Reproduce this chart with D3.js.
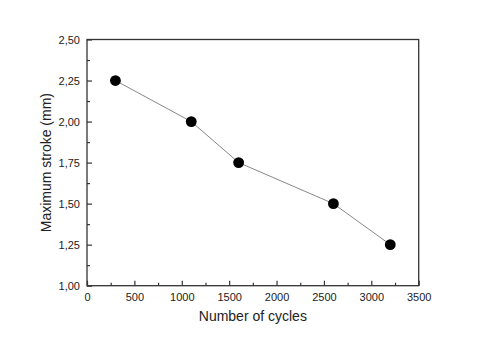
<!DOCTYPE html>
<html>
<head>
<meta charset="utf-8">
<script src="https://cdn.jsdelivr.net/npm/d3@7"></script>
<style>
  html, body { margin: 0; padding: 0; background: #fff; }
  svg { display: block; }
  text { font-family: "Liberation Sans", Arial, sans-serif; fill: #222; }
</style>
</head>
<body>
<svg id="chart" width="486" height="343"></svg>
<script>
// Maximum stroke measured against number of cycles
const cycles = [300, 1100, 1600, 2600, 3200];
const stroke = [2.25, 2.00, 1.75, 1.50, 1.25];
const xTicks = [0, 500, 1000, 1500, 2000, 2500, 3000, 3500];
const yTicks = [1.00, 1.25, 1.50, 1.75, 2.00, 2.25, 2.50];

const svg = d3.select("#chart");
const margin = { left: 87, top: 39.5, right: 486 - 418.7, bottom: 343 - 285.7 };
const W = 486, H = 343;

const x = d3.scaleLinear().domain([0, 3500]).range([margin.left, W - margin.right]);
const y = d3.scaleLinear().domain([1.0, 2.5]).range([H - margin.bottom, margin.top]);

const fmtY = d => d.toFixed(2).replace(".", ",");
const axisColor = "#333";

// Minor ticks at the midpoints
const xMinor = d3.range(250, 3500, 500);
const yMinor = d3.range(1.125, 2.5, 0.25);

const gx = svg.append("g").attr("transform", `translate(0,${y.range()[0]})`);
gx.call(d3.axisBottom(x).tickValues(xTicks).tickSize(-5).tickPadding(7.5).tickFormat(d3.format("d")));
gx.append("g").call(d3.axisBottom(x).tickValues(xMinor).tickSize(-3).tickFormat(""));

const gy = svg.append("g").attr("transform", `translate(${x.range()[0]},0)`);
gy.call(d3.axisLeft(y).tickValues(yTicks).tickSize(-5).tickPadding(7).tickFormat(fmtY));
gy.append("g").call(d3.axisLeft(y).tickValues(yMinor).tickSize(-3).tickFormat(""));

svg.selectAll(".domain").remove();
svg.selectAll(".tick line").attr("stroke", axisColor).attr("stroke-width", 1.2);
svg.selectAll(".tick text").attr("font-size", 11).attr("fill", "#222")
  .attr("font-family", "'Liberation Sans', Arial, sans-serif");

// Plot frame
svg.append("rect")
  .attr("x", x.range()[0]).attr("y", y.range()[1])
  .attr("width", x.range()[1] - x.range()[0])
  .attr("height", y.range()[0] - y.range()[1])
  .attr("fill", "none").attr("stroke", axisColor).attr("stroke-width", 1.3);

// Data line and markers
const pts = cycles.map((c, i) => [c, stroke[i]]);
svg.append("path")
  .datum(pts)
  .attr("fill", "none").attr("stroke", "#888").attr("stroke-width", 1)
  .attr("d", d3.line().x(d => x(d[0])).y(d => y(d[1])));

svg.selectAll("circle.pt").data(pts).join("circle")
  .attr("class", "pt")
  .attr("cx", d => x(d[0])).attr("cy", d => y(d[1]))
  .attr("r", 5.4).attr("fill", "#000");

// Axis titles
svg.append("text")
  .attr("x", (x.range()[0] + x.range()[1]) / 2).attr("y", 321)
  .attr("text-anchor", "middle").attr("font-size", 14)
  .text("Number of cycles");

svg.append("text")
  .attr("transform", `translate(50.5,${(y.range()[0] + y.range()[1]) / 2}) rotate(-90)`)
  .attr("text-anchor", "middle").attr("font-size", 14)
  .text("Maximum stroke (mm)");
</script>
</body>
</html>
